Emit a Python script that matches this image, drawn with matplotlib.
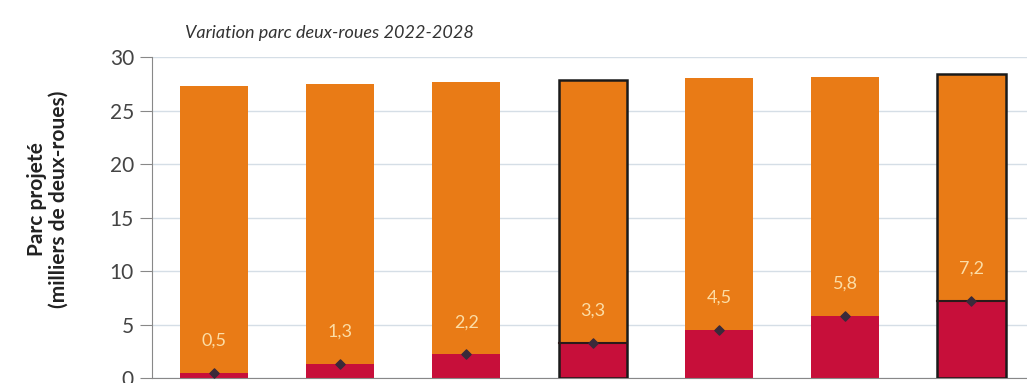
import matplotlib.pyplot as plt
import numpy as np

plt.rcParams['font.family'] = ['Lato', 'DejaVu Sans']

annees = ['2022', '2023', '2024', '2025', '2026', '2027', '2028']
parc_total = [27.3, 27.5, 27.7, 27.9, 28.0, 28.1, 28.4]
variation = [0.5, 1.3, 2.2, 3.3, 4.5, 5.8, 7.2]
etiquettes = ['0,5', '1,3', '2,2', '3,3', '4,5', '5,8', '7,2']
encadres = ['2025', '2028']

orange = '#E97B16'
rouge = '#C70F3A'

fig = plt.figure(figsize=(10.27, 3.83), dpi=100)
ax = fig.add_axes([0.148, 0.013, 0.852, 0.838])

x = np.arange(len(annees))
largeur = 0.54
reste = [t - v for t, v in zip(parc_total, variation)]

ax.bar(x, variation, largeur, color=rouge, zorder=2)
ax.bar(x, reste, largeur, bottom=variation, color=orange, zorder=2)

# contour noir pour certaines années
for i, a in enumerate(annees):
    if a in encadres:
        ax.bar(x[i], parc_total[i], largeur, fill=False, edgecolor='#1a1a1a', linewidth=1.8, zorder=3)
        ax.plot([x[i] - largeur / 2, x[i] + largeur / 2], [variation[i], variation[i]],
                color='#2a1a1a', lw=1.5, zorder=3)

ax.scatter(x, variation, marker='D', s=22, color='#3a2a3a', zorder=4)

for i in range(len(annees)):
    ax.text(x[i], variation[i] + 3.0, etiquettes[i], ha='center', va='center',
            color='#FCDDA6', fontsize=13, zorder=5)

ax.set_xlim(-0.49, 6.44)
ax.set_ylim(0, 30)
ax.set_yticks([0, 5, 10, 15, 20, 25, 30])
ax.set_xticks([])
ax.tick_params(axis='y', labelsize=15, labelcolor='#444444', length=9, color='#888888', pad=4)
ax.grid(axis='y', color='#D5DEE6', lw=1, zorder=0)
for s in ['top', 'right']:
    ax.spines[s].set_visible(False)
ax.spines['left'].set_color('#888888')
ax.spines['bottom'].set_color('#888888')

fig.text(0.047, 0.48, 'Parc projeté\n(milliers de deux-roues)', fontsize=15, fontweight='bold',
         color='#222222', rotation=90, ha='center', va='center', linespacing=1.1)
fig.text(0.18, 0.915, 'Variation parc deux-roues 2022-2028', fontsize=13,
         style='italic', color='#333333', va='center')

fig.savefig('out.png', dpi=100)
